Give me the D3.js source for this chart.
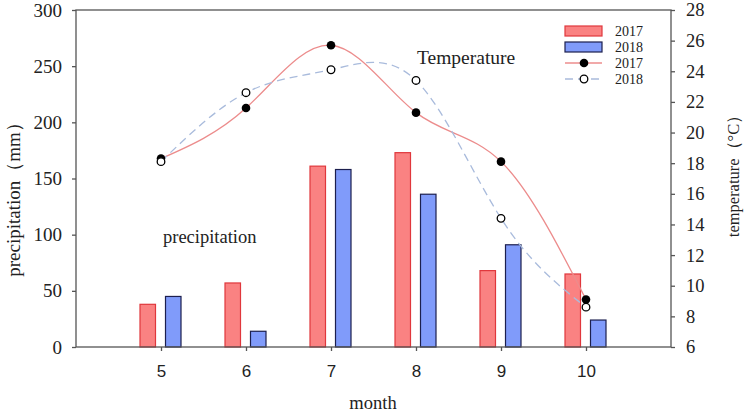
<!DOCTYPE html>
<html>
<head>
<meta charset="utf-8">
<script src="https://cdn.jsdelivr.net/npm/d3@7"></script>
<style>
  body { margin: 0; background: #fff; }
  text { font-family: "Liberation Serif", "Times New Roman", serif; fill: #222; }
</style>
</head>
<body>
<div id="chart"></div>
<script>
// data
var months = [5, 6, 7, 8, 9, 10];
var precip2017 = [38, 57, 161, 173, 68, 65];
var precip2018 = [45, 14, 158, 136, 91, 24];
var temp2017 = [18.3, 21.6, 25.7, 21.3, 18.1, 9.1];
var temp2018 = [18.1, 22.6, 24.1, 23.4, 14.4, 8.6];
var precipTicks = [0, 50, 100, 150, 200, 250, 300];
var tempTicks = [6, 8, 10, 12, 14, 16, 18, 20, 22, 24, 26, 28];

var W = 750, H = 413;
var pLeft = 76, pRight = 671, pTop = 10, pBottom = 347;
var barW = 15.5;

var svg = d3.select('#chart').append('svg')
    .attr('width', W).attr('height', H);

var x = d3.scaleLinear().domain([4, 11]).range([pLeft, pRight]);
var yL = d3.scaleLinear().domain([0, 300]).range([pBottom, pTop]);
var yR = d3.scaleLinear().domain([6, 28]).range([pBottom, pTop]);

// bars
var g = svg.append('g');
g.selectAll('rect.b17').data(months).enter().append('rect')
    .attr('x', function(d) { return x(d) - 21; })
    .attr('y', function(d, i) { return yL(precip2017[i]); })
    .attr('width', barW)
    .attr('height', function(d, i) { return pBottom - yL(precip2017[i]); })
    .style('fill', '#fa8282').style('stroke', '#e0373c').style('stroke-width', 1.2);
g.selectAll('rect.b18').data(months).enter().append('rect')
    .attr('x', function(d) { return x(d) + 4.5; })
    .attr('y', function(d, i) { return yL(precip2018[i]); })
    .attr('width', barW)
    .attr('height', function(d, i) { return pBottom - yL(precip2018[i]); })
    .style('fill', '#809bfa').style('stroke', '#1c1f4e').style('stroke-width', 1.2);

// temperature lines
var line = function(vals) {
  return d3.line()
    .x(function(d) { return x(d); })
    .y(function(d, i) { return yR(vals[i]); })
    .curve(d3.curveNatural)(months);
};
svg.append('path').attr('d', line(temp2017))
    .style('fill', 'none').style('stroke', '#ec8c8c').style('stroke-width', 1.3);
svg.append('path').attr('d', line(temp2018))
    .style('fill', 'none').style('stroke', '#a9bbdc').style('stroke-width', 1.3)
    .style('stroke-dasharray', '8,5');

svg.selectAll('circle.t17').data(months).enter().append('circle')
    .attr('cx', function(d) { return x(d); })
    .attr('cy', function(d, i) { return yR(temp2017[i]); })
    .attr('r', 4.3).style('fill', '#000');
svg.selectAll('circle.t18').data(months).enter().append('circle')
    .attr('cx', function(d) { return x(d); })
    .attr('cy', function(d, i) { return yR(temp2018[i]); })
    .attr('r', 3.8).style('fill', '#fff').style('stroke', '#000').style('stroke-width', 1.3);

// frame and axes
svg.append('rect').attr('x', pLeft).attr('y', pTop)
    .attr('width', pRight - pLeft).attr('height', pBottom - pTop)
    .style('fill', 'none').style('stroke', '#555').style('stroke-width', 1.3);

var axL = svg.append('g').attr('transform', 'translate(' + pLeft + ',0)')
    .call(d3.axisLeft(yL).tickValues(precipTicks).tickSize(4).tickPadding(10));
var axR = svg.append('g').attr('transform', 'translate(' + pRight + ',0)')
    .call(d3.axisRight(yR).tickValues(tempTicks).tickSize(4).tickPadding(11));
var axB = svg.append('g').attr('transform', 'translate(0,' + pBottom + ')')
    .call(d3.axisBottom(x).tickValues(months).tickFormat(d3.format('d'))
      .tickSize(4).tickPadding(14));

[axL, axR, axB].forEach(function(a) {
  a.select('.domain').remove();
  a.selectAll('line').style('stroke', '#555').style('stroke-width', 1.3);
  a.selectAll('text').style('fill', '#222');
});
axL.selectAll('text').style('font-family', '"Liberation Serif", serif').style('font-size', '19px');
axR.selectAll('text').style('font-family', '"Liberation Serif", serif').style('font-size', '18.5px');
axB.selectAll('text').style('font-family', '"Liberation Sans", Arial, sans-serif').style('font-size', '17px');

// titles
svg.append('text').attr('transform', 'translate(20,195) rotate(-90)')
    .attr('text-anchor', 'middle').style('font-size', '19px')
    .text('precipitation（mm）');
svg.append('text').attr('transform', 'translate(739,172) rotate(-90)')
    .attr('text-anchor', 'middle').style('font-size', '16.5px')
    .text('temperature（°C）');
svg.append('text').attr('x', 373).attr('y', 409)
    .attr('text-anchor', 'middle').style('font-size', '18.5px').text('month');
svg.append('text').attr('x', 417).attr('y', 64).style('font-size', '19.5px').text('Temperature');
svg.append('text').attr('x', 163).attr('y', 243).style('font-size', '18.5px').text('precipitation');

// legend
var lg = svg.append('g');
var lx = 565, lw = 37, rowY = [31, 47, 63, 79];
lg.append('rect').attr('x', lx).attr('y', rowY[0] - 5).attr('width', lw).attr('height', 10)
    .style('fill', '#fa8282').style('stroke', '#e0373c').style('stroke-width', 1.2);
lg.append('rect').attr('x', lx).attr('y', rowY[1] - 5).attr('width', lw).attr('height', 10)
    .style('fill', '#809bfa').style('stroke', '#1c1f4e').style('stroke-width', 1.2);
lg.append('line').attr('x1', lx).attr('x2', lx + lw).attr('y1', rowY[2]).attr('y2', rowY[2])
    .style('stroke', '#ec8c8c').style('stroke-width', 1.3);
lg.append('circle').attr('cx', lx + 19).attr('cy', rowY[2]).attr('r', 4.3).style('fill', '#000');
lg.append('line').attr('x1', lx).attr('x2', lx + lw).attr('y1', rowY[3]).attr('y2', rowY[3])
    .style('stroke', '#a9bbdc').style('stroke-width', 1.3).style('stroke-dasharray', '8,5');
lg.append('circle').attr('cx', lx + 19).attr('cy', rowY[3]).attr('r', 3.8)
    .style('fill', '#fff').style('stroke', '#000').style('stroke-width', 1.3);
['2017', '2018', '2017', '2018'].forEach(function(t, i) {
  lg.append('text').attr('x', 615).attr('y', rowY[i] + 5).style('font-size', '14px').text(t);
});
</script>
</body>
</html>
